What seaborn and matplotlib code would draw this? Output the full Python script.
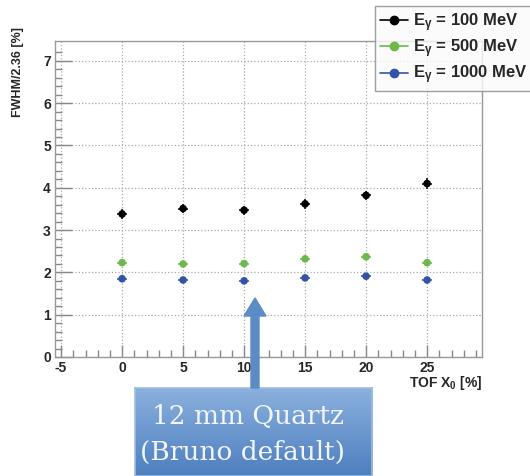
import numpy as np
import pandas as pd
import matplotlib
matplotlib.use("Agg")
import matplotlib.pyplot as plt
import seaborn as sns
from matplotlib.lines import Line2D
from matplotlib.patches import FancyArrow

# data
tof_x0 = [0, 5, 10, 15, 20, 25]
res_100 = [3.38, 3.51, 3.47, 3.62, 3.82, 4.10]
res_500 = [2.23, 2.20, 2.21, 2.32, 2.37, 2.23]
res_1000 = [1.85, 1.82, 1.80, 1.87, 1.91, 1.82]
err_100 = [0.11, 0.11, 0.11, 0.11, 0.11, 0.12]
err_500 = [0.04, 0.04, 0.04, 0.04, 0.04, 0.04]
err_1000 = [0.04, 0.04, 0.04, 0.04, 0.04, 0.04]
x_err = 0.42

labels = [r"E$_\gamma$ = 100 MeV", r"E$_\gamma$ = 500 MeV", r"E$_\gamma$ = 1000 MeV"]
colors = ["#000000", "#6cb84a", "#3453a6"]

df = pd.DataFrame({
    "tof": tof_x0 * 3,
    "res": res_100 + res_500 + res_1000,
    "err": err_100 + err_500 + err_1000,
    "energy": [labels[0]] * 6 + [labels[1]] * 6 + [labels[2]] * 6,
})

sns.set_style("white")
plt.rcParams["font.family"] = ["Liberation Sans", "DejaVu Sans"]
plt.rcParams["font.weight"] = "bold"
plt.rcParams["mathtext.default"] = "regular"

fig = plt.figure(figsize=(5.30, 4.76), dpi=100)
ax = fig.add_axes([55 / 530, 1 - 357 / 476, 427 / 530, 316 / 476])

# error bars first, then markers
for lab, col in zip(labels, colors):
    sub = df[df["energy"] == lab]
    ax.errorbar(sub["tof"], sub["res"], xerr=x_err, yerr=sub["err"], fmt="none",
                ecolor=col, elinewidth=1.3, capsize=0, alpha=0.85)

sns.scatterplot(data=df, x="tof", y="res", hue="energy", palette=colors,
                s=30, edgecolor="none", legend=False, ax=ax, zorder=3)

ax.set_xlim(-5.5, 29.5)
ax.set_ylim(0, 7.47)
ax.set_xticks([-5, 0, 5, 10, 15, 20, 25])
ax.set_xticklabels(["-5", "0", "5", "10", "15", "20", "25"])
ax.set_yticks(range(0, 8))
ax.set_xticks(np.arange(-5, 30, 1), minor=True)
ax.set_yticks(np.arange(0, 7.4, 0.2), minor=True)
ax.tick_params(axis="both", which="both", direction="in", color="#888888",
               bottom=True, left=True, top=False, right=False, width=1.0)
ax.tick_params(axis="x", which="major", length=9, pad=3, labelsize=10)
ax.tick_params(axis="y", which="major", length=12, pad=3, labelsize=10)
ax.tick_params(axis="both", which="minor", length=5)
ax.grid(True, which="major", linestyle=":", color="#aaaaaa", linewidth=0.9)
for sp in ax.spines.values():
    sp.set_color("#999999")
    sp.set_linewidth(1.0)
ax.set_xlabel("")
ax.set_ylabel("")

fig.text(18 / 530, 1 - 27 / 476, "FWHM/2.36 [%]", rotation=90, ha="center",
         va="top", fontsize=9, fontweight="bold")
fig.text(482 / 530, 1 - 383 / 476, r"TOF X$_0$ [%]", ha="right", va="center",
         fontsize=10, fontweight="bold")

handles = [Line2D([0], [0], color=c, marker="o", markersize=6, linewidth=1.2)
           for c in colors]
leg = fig.legend(handles, labels, loc="upper left",
                 bbox_to_anchor=(375 / 530, 1 - 6 / 476),
                 frameon=True, fancybox=False, fontsize=12, handlelength=1.7,
                 handletextpad=0.3, labelspacing=0.22, borderpad=0.3,
                 borderaxespad=0)
leg.get_frame().set_edgecolor("#888888")
leg.get_frame().set_facecolor("#fbfbfb")
for t in leg.get_texts():
    t.set_fontweight("bold")

# annotation box with arrow
grad = np.linspace(0, 1, 100).reshape(-1, 1)
bax = fig.add_axes([135 / 530, 0, 237 / 530, 88 / 476])
bax.imshow(grad, aspect="auto", cmap=matplotlib.colors.LinearSegmentedColormap.from_list(
    "b", ["#8ab0dd", "#4e7fc0"]), extent=[0, 1, 0, 1], origin="upper")
bax.set_xticks([])
bax.set_yticks([])
for sp in bax.spines.values():
    sp.set_color("#9fbde3")
    sp.set_linewidth(1.2)
fig.text(152 / 530, 1 - 416 / 476, "12 mm Quartz", ha="left", va="center",
         fontsize=19, family="DejaVu Serif", fontweight="normal", color="#f2f6fc")
fig.text(140 / 530, 1 - 452 / 476, "(Bruno default)", ha="left", va="center",
         fontsize=19, family="DejaVu Serif", fontweight="normal", color="#f2f6fc")

arr = FancyArrow(2.55, (476 - 388) / 100, 0, (388 - 298) / 100, width=0.08,
                 head_width=0.22, head_length=0.18, length_includes_head=True,
                 color="#5b8cc6", transform=fig.dpi_scale_trans)
fig.patches.append(arr)

fig.savefig("out.png", dpi=100)
